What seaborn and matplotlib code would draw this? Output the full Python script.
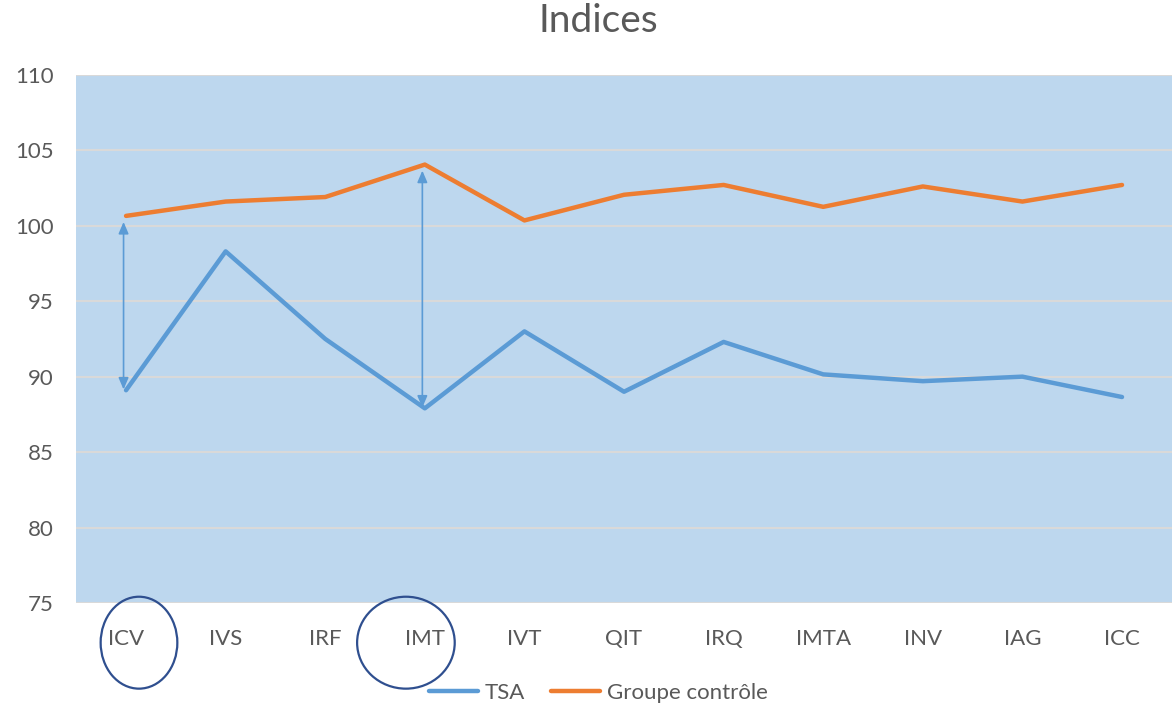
import pandas as pd
import seaborn as sns
import matplotlib.pyplot as plt
from matplotlib.patches import Ellipse

# données
indices = ["ICV", "IVS", "IRF", "IMT", "IVT", "QIT", "IRQ", "IMTA", "INV", "IAG", "ICC"]
tsa = [89.1, 98.3, 92.5, 87.9, 93.0, 89.0, 92.3, 90.15, 89.7, 90.0, 88.65]
controle = [100.65, 101.6, 101.9, 104.05, 100.35, 102.05, 102.7, 101.25, 102.6, 101.6, 102.7]

bleu = "#5B9BD5"
orange = "#ED7D31"
gris = "#595959"

df = pd.DataFrame({
    "indice": indices * 2,
    "valeur": tsa + controle,
    "groupe": ["TSA"] * len(indices) + ["Groupe contrôle"] * len(indices),
})

sns.set_style("white")
plt.rcParams["font.family"] = ["Lato", "DejaVu Sans"]

fig = plt.figure(figsize=(11.73, 7.12), dpi=100)
ax = fig.add_axes([0.065, 0.153, 0.934, 0.742])
ax.set_facecolor("#BDD7EE")

sns.lineplot(data=df, x="indice", y="valeur", hue="groupe", sort=False,
             palette={"TSA": bleu, "Groupe contrôle": orange},
             linewidth=3.2, ax=ax, legend=False)

ax.set_xlim(-0.5, len(indices) - 0.5)
ax.set_ylim(75, 110)
ax.set_yticks(range(75, 111, 5))
ax.grid(axis="y", color="#D9D9D9", linewidth=1.5)
ax.set_axisbelow(True)
for s in ax.spines.values():
    s.set_visible(False)
ax.tick_params(axis="both", length=0, labelsize=16, labelcolor=gris)
ax.tick_params(axis="x", pad=19)
ax.tick_params(axis="y", pad=16)
ax.set_xlabel("")
ax.set_ylabel("")
fig.text(0.51, 0.97, "Indices", fontsize=28, color=gris, ha="center", va="center")

# flèches d'écart sur ICV et IMT
for nom in ["ICV", "IMT"]:
    i = indices.index(nom)
    ax.annotate("", xy=(i - 0.025, controle[i] - 0.4), xytext=(i - 0.025, tsa[i] + 0.05),
                arrowprops=dict(arrowstyle="<|-|>,head_length=0.7,head_width=0.3",
                                color=bleu, lw=1.2, shrinkA=0, shrinkB=0))

# cercles autour des étiquettes
tr = ax.get_xaxis_transform()
ax.add_patch(Ellipse((0.13, -0.075), 0.77, 0.174, transform=tr, fill=False,
                     edgecolor="#2F4F8F", linewidth=1.6, clip_on=False))
ax.add_patch(Ellipse((2.81, -0.075), 0.98, 0.174, transform=tr, fill=False,
                     edgecolor="#2F4F8F", linewidth=1.6, clip_on=False))

handles = [plt.Line2D([], [], color=bleu, lw=3.2), plt.Line2D([], [], color=orange, lw=3.2)]
leg = fig.legend(handles, ["TSA", "Groupe contrôle"], loc="lower center",
                 bbox_to_anchor=(0.51, -0.015), ncol=2, frameon=False, fontsize=16,
                 handlelength=2.2, columnspacing=1.2, handletextpad=0.3)
for t in leg.get_texts():
    t.set_color(gris)

fig.savefig("out.png", dpi=100)
